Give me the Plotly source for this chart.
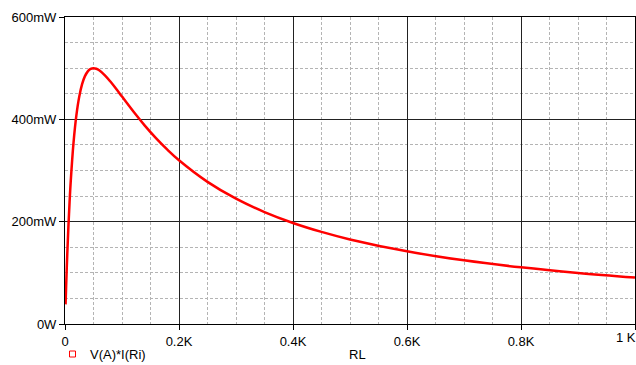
import plotly.graph_objects as go

# Load resistance RL (ohms) and power V(A)*I(Ri) (mW)
rl_ohm = [1, 2, 4, 6, 8, 10, 15, 20, 25, 30, 35, 40, 45, 50, 55, 60, 70, 80, 90,
          100, 120, 140, 160, 180, 200, 250, 300, 350, 400, 450, 500, 600, 700,
          800, 900, 1000]
power_mw = [38.4, 74.0, 137.2, 191.3, 237.8, 277.8, 355.0, 408.2, 444.4, 468.8,
            484.4, 493.8, 498.6, 500.0, 498.9, 495.9, 486.1, 473.4, 459.2,
            444.4, 415.2, 387.8, 362.8, 340.3, 320.0, 277.8, 244.9, 218.8, 197.5,
            180.0, 165.3, 142.0, 124.4, 110.7, 99.7, 90.7]

x_tickvals = [0, 200, 400, 600, 800, 1000]
x_ticktext = ["0", "0.2K", "0.4K", "0.6K", "0.8K", "1 K"]
y_tickvals = [0, 200, 400, 600]
y_ticktext = ["0W", "200mW", "400mW", "600mW"]
series_name = "V(A)*I(Ri)"
x_title = "RL"

W, H = 636, 365
ml, mr, mt, mb = 65, 1, 17, 41
pw, ph = W - ml - mr, H - mt - mb

fig = go.Figure()
fig.add_trace(go.Scatter(x=rl_ohm, y=power_mw, mode="lines",
                         line=dict(color="#ff0000", width=2.5, shape="spline"),
                         showlegend=False))

font = dict(family="Arial, Liberation Sans, sans-serif", size=13, color="#000000")

axis_common = dict(showline=True, linecolor="#000000", linewidth=1, mirror=True,
                   showgrid=True, gridcolor="#222222", gridwidth=1,
                   ticks="outside", ticklen=5, tickcolor="#000000", zeroline=False,
                   tickfont=font,
                   minor=dict(showgrid=True, gridcolor="#b4b4b4", griddash="3px,2px",
                              gridwidth=1, ticks=""))

# last x label sits at the page edge; draw it as a right-anchored annotation
shown_x_text = x_ticktext[:-1] + [""]
fig.update_xaxes(range=[0, 1000], tickmode="array", tickvals=x_tickvals,
                 ticktext=shown_x_text, minor_dtick=50, **axis_common)
fig.update_yaxes(range=[0, 600], tickmode="array", tickvals=y_tickvals,
                 ticktext=y_ticktext, minor_dtick=50, **axis_common)

def px_x(px):
    return (px - ml) / pw

def px_y(py):
    return (H - mb - py) / ph

fig.add_annotation(text=x_ticktext[-1], xref="paper", yref="paper",
                   x=px_x(636), y=px_y(337), xanchor="right", yanchor="middle",
                   showarrow=False, font=font, xshift=2)

fig.add_shape(type="rect", xref="paper", yref="paper",
              x0=px_x(69.5), x1=px_x(75.5), y0=px_y(357), y1=px_y(351),
              line=dict(color="#ff0000", width=1), fillcolor="rgba(0,0,0,0)")
fig.add_annotation(text=series_name, xref="paper", yref="paper",
                   x=px_x(88), y=px_y(354), xanchor="left", yanchor="middle",
                   showarrow=False, font=font)
fig.add_annotation(text=x_title, xref="paper", yref="paper",
                   x=px_x(357), y=px_y(354), xanchor="center", yanchor="middle",
                   showarrow=False, font=font)

fig.update_layout(width=W, height=H, margin=dict(l=ml, r=mr, t=mt, b=mb),
                  paper_bgcolor="#ffffff", plot_bgcolor="#ffffff", font=font)

fig.write_html("out.html")
